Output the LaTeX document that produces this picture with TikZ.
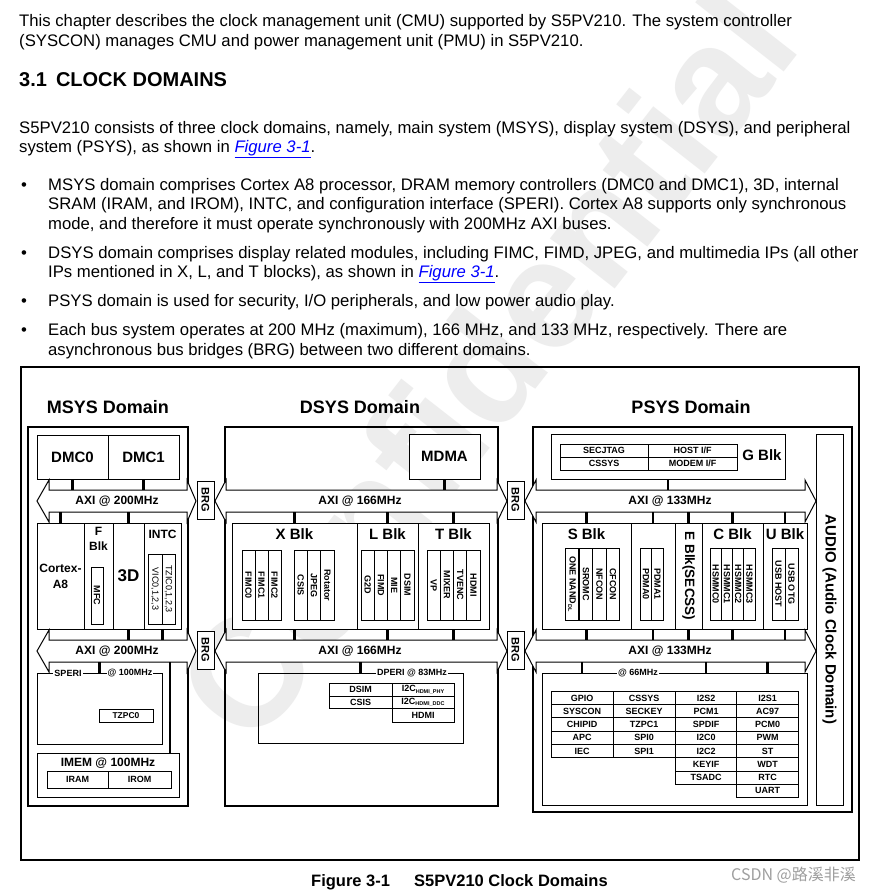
\documentclass[tikz,border=0pt]{standalone}
\usepackage{fontspec}
\setmainfont{Liberation Sans}
\newfontfamily\cjkfont{Noto Sans CJK SC}
\newcommand{\fsz}[1]{\fontsize{#1}{#1}\selectfont}
\newcommand{\flink}{{\color{blue}\underline{\textit{Figure 3-1}}}}
\newcommand{\subtx}[1]{\raisebox{-1.5pt}{\fsz{5.5}#1}}
% double headed bus: tip left, back left, back right, tip right, centre y
\newcommand{\axibus}[5]{%
  \draw[bus] (#1,#5) -- (#2,{#5-21}) -- (#2,{#5-11}) -- (#3,{#5-11}) -- (#3,{#5-21})
    -- (#4,#5) -- (#3,{#5+21}) -- (#3,{#5+11}) -- (#2,{#5+11}) -- (#2,{#5+21}) -- cycle;}
\begin{document}
\begin{tikzpicture}[x=1pt,y=-1pt,
    txt/.style={anchor=base west, inner sep=0, font=\fsz{16.7}},
    blk/.style={draw, fill=white, line width=1pt, inner sep=0, font=\bfseries\fsz{15}},
    cell/.style={draw, fill=white, line width=0.8pt, inner sep=0, font=\bfseries\fsz{9}},
    vcell/.style={cell, rotate=-90},
    pcell/.style={cell, minimum width=62, minimum height=13.2},
    dombox/.style={draw, line width=2.6pt},
    stub/.style={line width=2.6pt},
    bus/.style={draw, fill=white, line width=1pt},
    buslbl/.style={inner sep=0, outer sep=0, minimum height=22, font=\bfseries\fsz{12}},
    tag/.style={fill=white, inner sep=1pt, font=\bfseries\fsz{9}},
    blklbl/.style={inner sep=0, font=\bfseries\fsz{15}},
    brg/.style={draw, fill=white, line width=1pt, rotate=-90, minimum width=38,
      minimum height=17, inner sep=0, font=\bfseries\fsz{11}},
  ]
  \useasboundingbox (0,0) rectangle (882,891);
  \fill[white] (0,0) rectangle (882,891);

  % watermark
  \node[rotate=52, text=gray!14, font=\bfseries\fsz{155}] (wm) at (485,365) {Confidential};

  % text above the figure
  \node[txt] (p1a) at (19,27) {This chapter describes the clock management unit (CMU) supported by S5PV210. The system controller};
  \node[txt] (p1b) at (19,47) {(SYSCON) manages CMU and power management unit (PMU) in S5PV210.};
  \node[txt, font=\bfseries\fsz{20}] (h31) at (19,86) {3.1\hspace{9pt}CLOCK DOMAINS};
  \node[txt] (p2a) at (19,133) {S5PV210 consists of three clock domains, namely, main system (MSYS), display system (DSYS), and peripheral};
  \node[txt] (p2b) at (19,152) {system (PSYS), as shown in \flink.};

  \node[txt] (bul1) at (21,190) {\textbullet};
  \node[txt] (b1a) at (48,190) {MSYS domain comprises Cortex A8 processor, DRAM memory controllers (DMC0 and DMC1), 3D, internal};
  \node[txt] (b1b) at (48,209) {SRAM (IRAM, and IROM), INTC, and configuration interface (SPERI). Cortex A8 supports only synchronous};
  \node[txt] (b1c) at (48,229) {mode, and therefore it must operate synchronously with 200MHz AXI buses.};
  \node[txt] (bul2) at (21,258) {\textbullet};
  \node[txt] (b2a) at (48,258) {DSYS domain comprises display related modules, including FIMC, FIMD, JPEG, and multimedia IPs (all other};
  \node[txt] (b2b) at (48,277) {IPs mentioned in X, L, and T blocks), as shown in \flink.};
  \node[txt] (bul3) at (21,306) {\textbullet};
  \node[txt] (b3a) at (48,306) {PSYS domain is used for security, I/O peripherals, and low power audio play.};
  \node[txt] (bul4) at (21,335) {\textbullet};
  \node[txt] (b4a) at (48,335) {Each bus system operates at 200 MHz (maximum), 166 MHz, and 133 MHz, respectively. There are};
  \node[txt] (b4b) at (48,355) {asynchronous bus bridges (BRG) between two different domains.};

  % figure frame and domains
  \draw[line width=1.6pt] (21,367) rectangle (859,860);
  \node[font=\bfseries\fsz{18}] (msys) at (108,407) {MSYS Domain};
  \node[font=\bfseries\fsz{18}] (dsys) at (360,407) {DSYS Domain};
  \node[font=\bfseries\fsz{18}] (psys) at (691,407) {PSYS Domain};
  \draw[dombox] (28,427) rectangle (188,806);
  \draw[dombox] (225,427) rectangle (498,806);
  \draw[dombox] (533,427) rectangle (852,812);

  % MSYS
  \node[blk, minimum width=71, minimum height=44] (dmc0) at (72.5,457) {DMC0};
  \node[blk, minimum width=71, minimum height=44] (dmc1) at (143.5,457) {DMC1};
  \axibus{37}{49}{187}{196}{501}
  \node[buslbl] (ax1) at (117,501) {AXI @ 200MHz};
  \node[blk, minimum width=47, minimum height=106, align=center,
    font=\bfseries\fontsize{12}{16}\selectfont] (cortex) at (60.5,576) {Cortex-\\A8};
  \node[blk, minimum width=29, minimum height=106] (fblk) at (98.5,576) {};
  \node[anchor=north, inner sep=0, align=center,
    font=\bfseries\fontsize{12}{15}\selectfont] (fblkl) at (98.5,527) {F\\Blk};
  \node[vcell, minimum width=57, minimum height=12] (mfc) at (97,595.5) {MFC};
  \node[blk, minimum width=31, minimum height=106, font=\bfseries\fsz{17}] (td) at (128.5,576) {3D};
  \node[blk, minimum width=37, minimum height=106] (intc) at (162.5,576) {};
  \node[inner sep=0, font=\bfseries\fsz{12}] (intcl) at (162.5,534) {INTC};
  \node[vcell, minimum width=70, minimum height=14, font=\fsz{9}] (vic) at (155,589) {VIC0,1,2,3};
  \node[vcell, minimum width=70, minimum height=13, font=\fsz{9}] (tzic) at (168.5,589) {TZIC0,1,2,3};
  \axibus{37}{49}{187}{196}{651}
  \node[buslbl] (ax2) at (117,651) {AXI @ 200MHz};
  \node[draw, line width=1pt, inner sep=0, minimum width=125, minimum height=71] (speri) at (99.5,708.5) {};
  \node[tag] (speril) at (68,673) {SPERI};
  \node[tag] (sperif) at (130,673) {@ 100MHz};
  \node[cell, minimum width=54, minimum height=13, font=\bfseries\fsz{8.5}] (tzpc0) at (126,715.5) {TZPC0};
  \node[blk, minimum width=142, minimum height=44] (imem) at (108,775) {};
  \node[inner sep=0, font=\bfseries\fsz{12}] (imeml) at (108,763) {IMEM @ 100MHz};
  \node[cell, minimum width=61, minimum height=17] (iram) at (77.5,779.5) {IRAM};
  \node[cell, minimum width=63, minimum height=17] (irom) at (139.5,779.5) {IROM};
  \draw[stub] (dmc0.south) -- (dmc0.south |- ax1.north);
  \draw[stub] (dmc1.south) -- (dmc1.south |- ax1.north);
  \draw[stub] (cortex.north) -- (cortex.north |- ax1.south);
  \draw[stub] (td.north) -- (td.north |- ax1.south);
  \draw[stub] (td.south) -- (td.south |- ax2.north);
  \draw[stub] (intc.south) -- (intc.south |- ax2.north);
  \draw[stub] (speri.north) -- (speri.north |- ax2.south);
  \coordinate (imemtap) at (170,662);
  \draw[stub] (imemtap) -- (imemtap |- imem.north);

  % bridges
  \node[brg] (brg1) at (205.5,500) {BRG};
  \node[brg] (brg2) at (205.5,650) {BRG};
  \node[brg] (brg3) at (515.5,500) {BRG};
  \node[brg] (brg4) at (515.5,650) {BRG};

  % DSYS
  \node[blk, minimum width=71, minimum height=45] (mdma) at (444.5,456.5) {MDMA};
  \axibus{215}{226}{497}{507}{501}
  \node[buslbl] (ax3) at (360,501) {AXI @ 166MHz};
  \node[blk, minimum width=125, minimum height=106] (xblk) at (294.5,576) {};
  \node[blk, minimum width=61, minimum height=106] (lblk) at (387.5,576) {};
  \node[blk, minimum width=71, minimum height=106] (tblk) at (453.5,576) {};
  \node[blklbl] (xblkl) at (294.5,534) {X Blk};
  \node[blklbl] (lblkl) at (387.5,534) {L Blk};
  \node[blklbl] (tblkl) at (453.5,534) {T Blk};
  \node[vcell, minimum width=70, minimum height=13] (fimc0) at (248.5,585) {FIMC0};
  \node[vcell, minimum width=70, minimum height=13] (fimc1) at (261.5,585) {FIMC1};
  \node[vcell, minimum width=70, minimum height=13] (fimc2) at (274.5,585) {FIMC2};
  \node[vcell, minimum width=70, minimum height=13.3] (csis) at (300.7,585) {CSIS};
  \node[vcell, minimum width=70, minimum height=13.3] (jpeg) at (314,585) {JPEG};
  \node[vcell, minimum width=70, minimum height=13.3] (rot) at (327.3,585) {Rotator};
  \node[vcell, minimum width=70, minimum height=13.25] (g2d) at (367.6,585) {G2D};
  \node[vcell, minimum width=70, minimum height=13.25] (fimd) at (380.9,585) {FIMD};
  \node[vcell, minimum width=70, minimum height=13.25] (mie) at (394.1,585) {MIE};
  \node[vcell, minimum width=70, minimum height=13.25] (dsim) at (407.4,585) {DSIM};
  \node[vcell, minimum width=70, minimum height=13.25] (vp) at (433.6,585) {VP};
  \node[vcell, minimum width=70, minimum height=13.25] (mixer) at (446.9,585) {MIXER};
  \node[vcell, minimum width=70, minimum height=13.25] (tvenc) at (460.1,585) {TVENC};
  \node[vcell, minimum width=70, minimum height=13.25] (hdmi) at (473.4,585) {HDMI};
  \axibus{215}{226}{497}{507}{651}
  \node[buslbl] (ax4) at (360,651) {AXI @ 166MHz};
  \node[draw, line width=1pt, inner sep=0, minimum width=205, minimum height=70] (dperi) at (360.5,708) {};
  \node[tag] (dperil) at (412,673) {DPERI @ 83MHz};
  \node[cell, minimum width=63, minimum height=13] (dsimp) at (360.5,689.5) {DSIM};
  \node[cell, minimum width=63, minimum height=12] (csisp) at (360.5,702) {CSIS};
  \node[cell, minimum width=62, minimum height=13] (i2cphy) at (423,689.5) {I2C\subtx{HDMI\_PHY}};
  \node[cell, minimum width=62, minimum height=12] (i2cddc) at (423,702) {I2C\subtx{HDMI\_DDC}};
  \node[cell, minimum width=62, minimum height=14] (hdmip) at (423,715) {HDMI};
  \draw[stub] (mdma.south) -- (mdma.south |- ax3.north);
  \draw[stub] (xblk.north) -- (xblk.north |- ax3.south);
  \draw[stub] (lblk.north) -- (lblk.north |- ax3.south);
  \draw[stub] (tblk.north) -- (tblk.north |- ax3.south);
  \draw[stub] (xblk.south) -- (xblk.south |- ax4.north);
  \draw[stub] (lblk.south) -- (lblk.south |- ax4.north);
  \draw[stub] (tblk.south) -- (tblk.south |- ax4.north);
  \draw[stub] (dperi.north) -- (dperi.north |- ax4.south);

  % PSYS
  \node[blk, minimum width=234, minimum height=45] (gblk) at (668,456.5) {};
  \node[cell, minimum width=88, minimum height=13] (secjtag) at (604,450.5) {SECJTAG};
  \node[cell, minimum width=89, minimum height=13] (hostif) at (692.5,450.5) {HOST I/F};
  \node[cell, minimum width=88, minimum height=13] (cssysg) at (604,463.5) {CSSYS};
  \node[cell, minimum width=89, minimum height=13] (modemif) at (692.5,463.5) {MODEM I/F};
  \node[blklbl] (gblkl) at (762,455) {G Blk};
  \node[blk, rotate=-90, minimum width=371, minimum height=27] (audio) at (829.5,619.5) {AUDIO (Audio Clock Domain)};
  \axibus{525}{536}{805}{816}{501}
  \node[buslbl] (ax5) at (670,501) {AXI @ 133MHz};
  \node[blk, minimum width=89, minimum height=106] (sblk) at (586.5,576) {};
  \node[blk, minimum width=44, minimum height=106] (pdma) at (653,576) {};
  \node[blk, rotate=-90, minimum width=106, minimum height=27, font=\bfseries\fsz{13.5}] (eblk) at (688.5,576) {E Blk(SECSS)};
  \node[blk, minimum width=61, minimum height=106] (cblk) at (732.5,576) {};
  \node[blk, minimum width=44, minimum height=106] (ublk) at (785,576) {};
  \node[blklbl] (sblkl) at (586.5,534) {S Blk};
  \node[blklbl] (cblkl) at (732.5,534) {C Blk};
  \node[blklbl] (ublkl) at (785,534) {U Blk};
  \node[vcell, minimum width=72, minimum height=13.5] (onenand) at (572,584) {ONE NAND\subtx{DL}};
  \node[vcell, minimum width=72, minimum height=13.5] (sromc) at (586,584) {SROMC};
  \node[vcell, minimum width=72, minimum height=13.5] (nfcon) at (599.5,584) {NFCON};
  \node[vcell, minimum width=72, minimum height=13.5] (cfcon) at (613,584) {CFCON};
  \node[vcell, minimum width=72, minimum height=11.5] (pdma0) at (646,584) {PDMA0};
  \node[vcell, minimum width=72, minimum height=11.5] (pdma1) at (657.5,584) {PDMA1};
  \node[vcell, minimum width=72, minimum height=11.25] (hsmmc0) at (715.6,584) {HSMMC0};
  \node[vcell, minimum width=72, minimum height=11.25] (hsmmc1) at (726.9,584) {HSMMC1};
  \node[vcell, minimum width=72, minimum height=11.25] (hsmmc2) at (738.1,584) {HSMMC2};
  \node[vcell, minimum width=72, minimum height=11.25] (hsmmc3) at (749.4,584) {HSMMC3};
  \node[vcell, minimum width=72, minimum height=13] (usbhost) at (778.5,584) {USB HOST};
  \node[vcell, minimum width=72, minimum height=13] (usbotg) at (791.5,584) {USB OTG};
  \axibus{525}{536}{805}{816}{651}
  \node[buslbl] (ax6) at (670,651) {AXI @ 133MHz};
  \node[draw, line width=1pt, inner sep=0, minimum width=265, minimum height=132] (pperi) at (674.5,739) {};
  \node[tag] (pperil) at (638,673) {@ 66MHz};
  \node[pcell] (gpio) at (582,698) {GPIO};
  \node[pcell] (syscon) at (582,711) {SYSCON};
  \node[pcell] (chipid) at (582,724.3) {CHIPID};
  \node[pcell] (apc) at (582,737.7) {APC};
  \node[pcell] (iec) at (582,751) {IEC};
  \node[pcell] (cssys) at (644,698) {CSSYS};
  \node[pcell] (seckey) at (644,711) {SECKEY};
  \node[pcell] (tzpc1) at (644,724.3) {TZPC1};
  \node[pcell] (spi0) at (644,737.7) {SPI0};
  \node[pcell] (spi1) at (644,751) {SPI1};
  \node[pcell] (i2s2) at (706,698) {I2S2};
  \node[pcell] (pcm1) at (706,711) {PCM1};
  \node[pcell] (spdif) at (706,724.3) {SPDIF};
  \node[pcell] (i2c0) at (706,737.7) {I2C0};
  \node[pcell] (i2c2) at (706,751) {I2C2};
  \node[pcell] (keyif) at (706,764.3) {KEYIF};
  \node[pcell] (tsadc) at (706,777.5) {TSADC};
  \node[pcell] (i2s1) at (767.5,698) {I2S1};
  \node[pcell] (ac97) at (767.5,711) {AC97};
  \node[pcell] (pcm0) at (767.5,724.3) {PCM0};
  \node[pcell] (pwm) at (767.5,737.7) {PWM};
  \node[pcell] (st) at (767.5,751) {ST};
  \node[pcell] (wdt) at (767.5,764.3) {WDT};
  \node[pcell] (rtc) at (767.5,777.5) {RTC};
  \node[pcell] (uart) at (767.5,790.7) {UART};
  \draw[stub] (gblk.south) -- (gblk.south |- ax5.north);
  \draw[stub] (sblk.north) -- (sblk.north |- ax5.south);
  \draw[stub] (pdma.north) -- (pdma.north |- ax5.south);
  \draw[stub] (eblk.west) -- (eblk.west |- ax5.south);
  \draw[stub] (cblk.north) -- (cblk.north |- ax5.south);
  \draw[stub] (ublk.north) -- (ublk.north |- ax5.south);
  \draw[stub] (sblk.south) -- (sblk.south |- ax6.north);
  \draw[stub] (pdma.south) -- (pdma.south |- ax6.north);
  \draw[stub] (eblk.east) -- (eblk.east |- ax6.north);
  \draw[stub] (cblk.south) -- (cblk.south |- ax6.north);
  \draw[stub] (ublk.south) -- (ublk.south |- ax6.north);
  \draw[stub] (gpio.north |- pperi.north) -- (gpio.north |- ax6.south);
  \draw[stub] (i2s2.north |- pperi.north) -- (i2s2.north |- ax6.south);
  \draw[stub] (i2s1.north |- pperi.north) -- (i2s1.north |- ax6.south);

  % caption and marks
  \node[txt, font=\bfseries\fsz{16.5}] (cap1) at (311,886) {Figure 3-1};
  \node[txt, font=\bfseries\fsz{16.5}] (cap2) at (414,886) {S5PV210 Clock Domains};
  \node[txt, text=gray!75, font=\cjkfont\fsz{16}] (csdn) at (731,880) {CSDN @路溪非溪};
\end{tikzpicture}
\end{document}
